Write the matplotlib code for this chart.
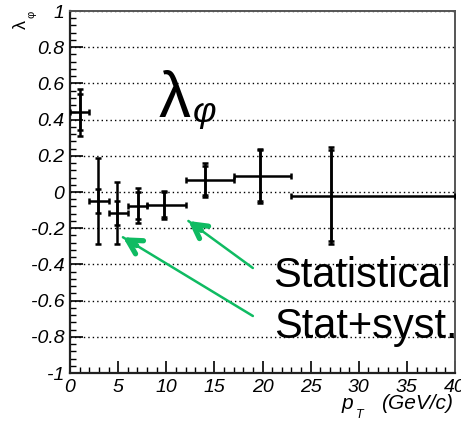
import numpy as np
import matplotlib.pyplot as plt

# ---------------------------------------------------------------
# duomenys: lambda_phi vs pT (stat ir stat+syst paklaidos)
# ---------------------------------------------------------------
pt      = [1.0, 2.95, 4.85, 7.1, 9.8, 14.0, 19.7, 27.1]
pt_lo   = [0.0, 2.0, 4.0, 6.0, 8.0, 12.0, 17.0, 23.0]
pt_hi   = [2.0, 4.0, 6.0, 8.0, 12.0, 17.0, 23.0, 40.0]
lam     = [0.44, -0.05, -0.115, -0.075, -0.07, 0.065, 0.09, -0.02]
err_stat = [0.10, 0.065, 0.065, 0.075, 0.07, 0.08, 0.14, 0.25]
err_tot  = [0.13, 0.24, 0.17, 0.095, 0.078, 0.095, 0.15, 0.27]

y_ticks = np.arange(-1.0, 1.01, 0.2)
y_labels = ['-1', '-0.8', '-0.6', '-0.4', '-0.2', '0',
            '0.2', '0.4', '0.6', '0.8', '1']
x_ticks = [0, 5, 10, 15, 20, 25, 30, 35, 40]

plt.rcParams['font.family'] = ['Liberation Sans', 'DejaVu Sans']
plt.rcParams['font.style'] = 'italic'   # ROOT stiliaus kursyvas ašims

fig = plt.figure(figsize=(4.61, 4.22), dpi=100)
ax = fig.add_axes([70 / 461, 49 / 422, 385 / 461, 362 / 422])

pt = np.array(pt)
xerr = [pt - np.array(pt_lo), np.array(pt_hi) - pt]

# stat+syst
ax.errorbar(pt, lam, xerr=xerr, yerr=err_tot, fmt='none', ecolor='black',
            elinewidth=1.8, capsize=2.5, capthick=1.8, zorder=3)
# stat
ax.errorbar(pt, lam, yerr=err_stat, fmt='none', ecolor='black',
            elinewidth=1.8, capsize=2.5, capthick=1.8, zorder=3)

ax.set_xlim(0, 40)
ax.set_ylim(-1, 1)
ax.set_yticks(y_ticks)
ax.set_yticklabels(y_labels)
ax.set_xticks(x_ticks)
ax.set_xticklabels([str(v) for v in x_ticks])
ax.set_yticks(np.arange(-1.0, 1.001, 0.04), minor=True)
ax.set_xticks(np.arange(0, 41, 1), minor=True)

ax.tick_params(which='major', direction='in', length=9, width=1.2,
               labelsize=14, top=False, right=False, pad=4)
ax.tick_params(which='minor', direction='in', length=4.5, width=1.0,
               top=False, right=False)

ax.yaxis.grid(True, which='major', linestyle=(0, (1, 2.2)), color='black',
              linewidth=1.0)
ax.set_axisbelow(True)

for side in ['left', 'bottom']:
    ax.spines[side].set_linewidth(1.6)
    ax.spines[side].set_color('#222222')
for side in ['top', 'right']:
    ax.spines[side].set_linewidth(1.4)
    ax.spines[side].set_color('#555555')

# ašių pavadinimai (ROOT stilius)
ax.text(-0.127, 0.975, 'λ', transform=ax.transAxes, rotation=90,
        fontsize=13, fontstyle='normal', ha='center', va='top')
ax.text(-0.101, 1.0, 'φ', transform=ax.transAxes, rotation=90,
        fontsize=8, fontstyle='normal', ha='center', va='top')
ax.text(0.705, -0.085, 'p', transform=ax.transAxes, fontsize=15,
        ha='left', va='center')
ax.text(0.742, -0.115, 'T', transform=ax.transAxes, fontsize=9,
        ha='left', va='center')
ax.text(0.995, -0.085, '(GeV/c)', transform=ax.transAxes, fontsize=15,
        ha='right', va='center')

# didelis užrašas
ax.text(9.2, 0.414, 'λ', fontsize=46, fontstyle='normal',
        ha='left', va='baseline')
ax.text(12.8, 0.385, 'φ', fontsize=26, ha='left', va='baseline')

# rodyklės
green = '#0fbb62'
arrows = [((19.0, -0.42), (12.3, -0.16)), ((19.0, -0.685), (5.5, -0.25))]
fig.canvas.draw()
for tail, tip in arrows:
    ax.annotate('', xy=tip, xytext=tail,
                arrowprops=dict(arrowstyle='-', color=green, lw=1.8,
                                shrinkA=0, shrinkB=0))
    # tik smaigalys storesnis
    p_tail = ax.transData.transform(tail)
    p_tip = ax.transData.transform(tip)
    d = p_tail - p_tip
    frac = 16.0 / np.hypot(*d)
    stub = ax.transData.inverted().transform(p_tip + d * frac)
    ax.annotate('', xy=tip, xytext=stub,
                arrowprops=dict(arrowstyle='->, head_length=1.0, head_width=0.55',
                                color=green, lw=3.8, shrinkA=0, shrinkB=0))

ax.text(21.1, -0.525, 'Statistical', fontsize=30, fontstyle='normal',
        ha='left', va='baseline', clip_on=False)
ax.text(21.2, -0.807, 'Stat+syst.', fontsize=30, fontstyle='normal',
        ha='left', va='baseline', clip_on=False)

fig.savefig('out.png', dpi=100)
